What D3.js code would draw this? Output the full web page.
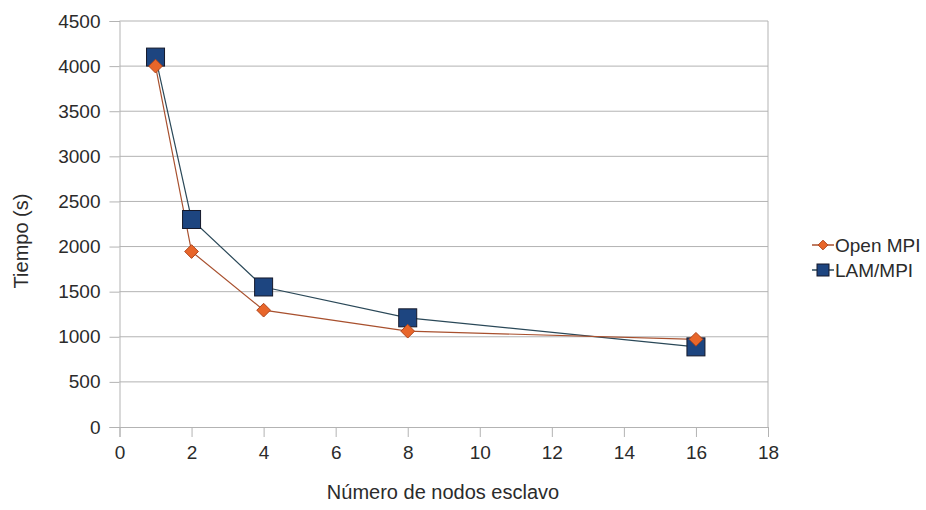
<!DOCTYPE html>
<html>
<head>
<meta charset="utf-8">
<script src="https://cdnjs.cloudflare.com/ajax/libs/d3/7.8.5/d3.min.js"></script>
<style>
  body { margin: 0; background: #fff; }
  svg { font-family: "Liberation Sans", Arial, sans-serif; }
</style>
</head>
<body>
<div id="chart"><svg width="926" height="510"></svg></div>
<script>
const nodes = [1, 2, 4, 8, 16];
const openMPI = [4000, 1945, 1295, 1062, 972];
const lamMPI = [4100, 2300, 1552, 1210, 888];
const seriesNames = ['Open MPI', 'LAM/MPI'];
const xTicks = [0, 2, 4, 6, 8, 10, 12, 14, 16, 18];
const yTicks = [0, 500, 1000, 1500, 2000, 2500, 3000, 3500, 4000, 4500];

const svg = d3.select('#chart svg');

const X_SCALE = d3.scaleLinear().domain([0, 18]).range([119.5, 768]);
const Y_SCALE = d3.scaleLinear().domain([0, 4500]).range([427, 21]);

const GRID = '#b3b3b3';
const TEXT = '#2b2b2b';
const OPEN_LINE = '#a8502e';
const LAM_LINE = '#2a4858';

// grid
svg.append('g')
  .selectAll('line')
  .data(yTicks.slice(1))
  .join('line')
  .attr('x1', X_SCALE(0)).attr('x2', X_SCALE(18))
  .attr('y1', d => Y_SCALE(d)).attr('y2', d => Y_SCALE(d))
  .attr('stroke', GRID).attr('stroke-width', 1);

// right border
svg.append('line')
  .attr('x1', X_SCALE(18)).attr('x2', X_SCALE(18))
  .attr('y1', Y_SCALE(4500)).attr('y2', Y_SCALE(0))
  .attr('stroke', GRID);

const xAxis = svg.append('g')
  .attr('transform', `translate(0,${Y_SCALE(0)})`)
  .call(d3.axisBottom(X_SCALE).tickValues(xTicks).tickSize(10).tickPadding(9)
    .tickFormat(d3.format('d')));
const yAxis = svg.append('g')
  .attr('transform', `translate(${X_SCALE(0)},0)`)
  .call(d3.axisLeft(Y_SCALE).tickValues(yTicks).tickSize(10).tickPadding(9)
    .tickFormat(d3.format('d')));

[xAxis, yAxis].forEach(a => {
  a.select('.domain').attr('stroke', GRID);
  a.selectAll('.tick line').attr('stroke', GRID);
  a.selectAll('text').attr('fill', TEXT).style('font-size', '19px')
    .style('font-family', '"Liberation Sans", Arial, sans-serif');
});

const line = d3.line().x((d, i) => X_SCALE(nodes[i])).y(d => Y_SCALE(d));

svg.append('path').datum(lamMPI).attr('d', line)
  .attr('fill', 'none').attr('stroke', LAM_LINE).attr('stroke-width', 1.2);
svg.append('path').datum(openMPI).attr('d', line)
  .attr('fill', 'none').attr('stroke', OPEN_LINE).attr('stroke-width', 1.2);

svg.append('g').selectAll('rect')
  .data(lamMPI)
  .join('rect')
  .attr('x', (d, i) => X_SCALE(nodes[i]) - 9)
  .attr('y', d => Y_SCALE(d) - 9)
  .attr('width', 18).attr('height', 18)
  .attr('fill', '#1d4580').attr('stroke', '#15192a').attr('stroke-width', 1);

const diamond = d3.symbol().type(d3.symbolDiamond2).size(120);
svg.append('g').selectAll('path')
  .data(openMPI)
  .join('path')
  .attr('d', diamond)
  .attr('transform', (d, i) => `translate(${X_SCALE(nodes[i])},${Y_SCALE(d)})`)
  .attr('fill', '#e8662a').attr('stroke', '#b0451c').attr('stroke-width', 1);

// legend
const legend = svg.append('g').attr('transform', 'translate(812,0)');
const legY = [245, 270];
seriesNames.forEach((name, i) => {
  const g = legend.append('g').attr('transform', `translate(0,${legY[i]})`);
  g.append('line').attr('x1', 0).attr('x2', 22).attr('y1', 0).attr('y2', 0)
    .attr('stroke', i === 0 ? OPEN_LINE : LAM_LINE).attr('stroke-width', 1.5);
  if (i === 0) {
    g.append('path').attr('d', d3.symbol().type(d3.symbolDiamond2).size(60))
      .attr('transform', 'translate(11,0)')
      .attr('fill', '#e8662a').attr('stroke', '#b0451c');
  } else {
    g.append('rect').attr('x', 5).attr('y', -6).attr('width', 12).attr('height', 12)
      .attr('fill', '#1d4580').attr('stroke', '#15192a');
  }
  g.append('text').attr('x', 23).attr('y', 7).text(name)
    .attr('fill', TEXT).style('font-size', '19px');
});

svg.append('text')
  .attr('x', 443).attr('y', 499)
  .attr('text-anchor', 'middle')
  .attr('fill', TEXT)
  .style('font-size', '20px')
  .text('Número de nodos esclavo');

svg.append('text')
  .attr('transform', 'translate(28,241) rotate(-90)')
  .attr('text-anchor', 'middle')
  .attr('fill', TEXT)
  .style('font-size', '20px')
  .text('Tiempo (s)');
</script>
</body>
</html>
